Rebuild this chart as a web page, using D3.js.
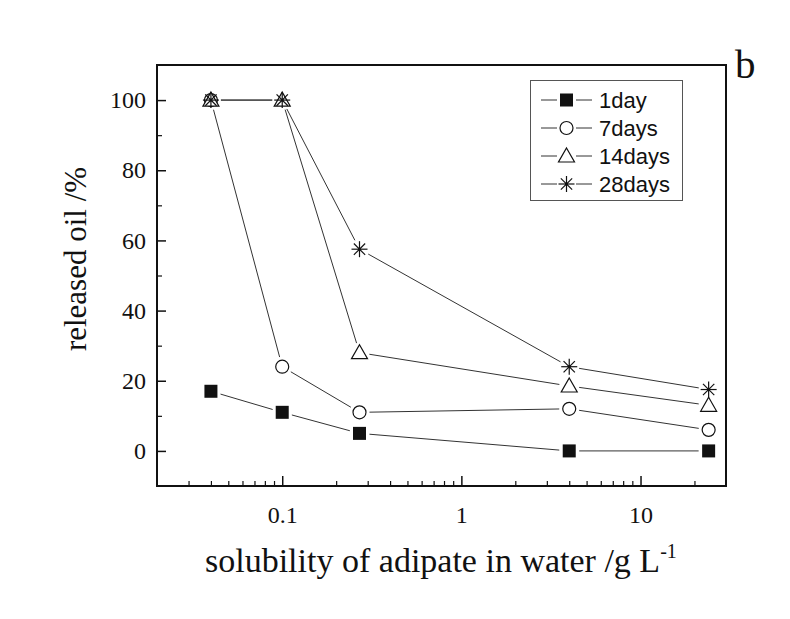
<!DOCTYPE html>
<html>
<head>
<meta charset="utf-8">
<script src="https://cdn.jsdelivr.net/npm/d3@7"></script>
<style>
  body { margin: 0; background: #fff; }
  svg { display: block; }
</style>
</head>
<body>
<svg id="chart" width="790" height="619"></svg>
<script>
// Solubility of each adipate (g/L) on a log axis
const solubility = [0.04, 0.1, 0.27, 4, 24];

// Released oil (%) per storage time
const day1   = [17, 11, 5, 0, 0];
const days7  = [100, 24, 11, 12, 6];
const days14 = [100, 100, 28, 18.5, 13];
const days28 = [100, 100, 57.5, 24, 17.5];

const seriesNames = ["1day", "7days", "14days", "28days"];
const seriesValues = [day1, days7, days14, days28];
const seriesSymbols = ["square", "circle", "triangle", "star"];

const yTicks = [0, 20, 40, 60, 80, 100];
const yMinorTicks = [10, 30, 50, 70, 90];
const xTicks = [0.1, 1, 10];
const xTickLabels = ["0.1", "1", "10"];

const svg = d3.select("#chart");
const m = { left: 157, right: 726, top: 65, bottom: 486 };

const x = d3.scaleLog().domain([0.02, 30]).range([m.left, m.right]);
const y = d3.scaleLinear().domain([-10, 110]).range([m.bottom, m.top]);

const serif = "'Liberation Serif', 'Times New Roman', serif";
const sans = "'Liberation Sans', Arial, sans-serif";
const ink = "#111";
const lineInk = "#333";

// Minor x ticks: every integer multiple within each decade
const xMinor = [];
for (let e = -2; e <= 1; e++) {
  for (let k = 2; k <= 9; k++) {
    const v = k * Math.pow(10, e);
    if (v > 0.02 && v < 30) xMinor.push(v);
  }
}

// Axes with inward ticks
const xAxis = d3.axisBottom(x).tickValues(xTicks)
  .tickFormat((d, i) => xTickLabels[i]).tickSizeInner(-10).tickSizeOuter(0).tickPadding(20);
const gx = svg.append("g").attr("transform", `translate(0,${m.bottom})`).call(xAxis);
gx.select(".domain").remove();
gx.selectAll(".tick line").attr("stroke", ink).attr("stroke-width", 1.5);
gx.selectAll(".tick text").style("font-family", serif).style("font-size", "24px").attr("fill", ink);

const xAxisMinor = d3.axisBottom(x).tickValues(xMinor).tickFormat("").tickSizeInner(-5).tickSizeOuter(0);
const gxm = svg.append("g").attr("transform", `translate(0,${m.bottom})`).call(xAxisMinor);
gxm.select(".domain").remove();
gxm.selectAll(".tick line").attr("stroke", ink).attr("stroke-width", 1.2);

const yAxis = d3.axisLeft(y).tickValues(yTicks).tickSizeInner(-9).tickSizeOuter(0).tickPadding(11);
const gy = svg.append("g").attr("transform", `translate(${m.left},0)`).call(yAxis);
gy.select(".domain").remove();
gy.selectAll(".tick line").attr("stroke", ink).attr("stroke-width", 1.5);
gy.selectAll(".tick text").style("font-family", serif).style("font-size", "24px").attr("fill", ink);

const yAxisMinor = d3.axisLeft(y).tickValues(yMinorTicks)
  .tickFormat("").tickSizeInner(-5).tickSizeOuter(0);
const gym = svg.append("g").attr("transform", `translate(${m.left},0)`).call(yAxisMinor);
gym.select(".domain").remove();
gym.selectAll(".tick line").attr("stroke", ink).attr("stroke-width", 1.2);

// Frame
svg.append("rect")
  .attr("x", m.left).attr("y", m.top)
  .attr("width", m.right - m.left).attr("height", m.bottom - m.top)
  .attr("fill", "none").attr("stroke", ink).attr("stroke-width", 2);

// Marker drawing
function drawSymbol(g, type, cx, cy) {
  if (type === "square") {
    g.append("rect").attr("x", cx - 6.5).attr("y", cy - 6.5).attr("width", 13).attr("height", 13)
      .attr("fill", ink);
  } else if (type === "circle") {
    g.append("circle").attr("cx", cx).attr("cy", cy).attr("r", 6.5)
      .attr("fill", "#fff").attr("stroke", ink).attr("stroke-width", 1.2);
  } else if (type === "triangle") {
    const s = 8;
    g.append("path")
      .attr("d", `M${cx},${cy - s}L${cx + s},${cy + s * 0.75}L${cx - s},${cy + s * 0.75}Z`)
      .attr("fill", "#fff").attr("stroke", ink).attr("stroke-width", 1.2);
  } else if (type === "star") {
    const r = 8;
    for (let a = 0; a < 4; a++) {
      const t = a * Math.PI / 4;
      g.append("line")
        .attr("x1", cx - r * Math.cos(t)).attr("y1", cy - r * Math.sin(t))
        .attr("x2", cx + r * Math.cos(t)).attr("y2", cy + r * Math.sin(t))
        .attr("stroke", ink).attr("stroke-width", 1.2);
    }
    g.append("circle").attr("cx", cx).attr("cy", cy).attr("r", 1.6).attr("fill", ink);
  }
}

// Connecting segments trimmed short of each marker
const gap = 10;
const plot = svg.append("g");
seriesValues.forEach(vals => {
  const pts = vals.map((v, i) => [x(solubility[i]), y(v)]);
  const g = plot.append("g");
  for (let i = 0; i < pts.length - 1; i++) {
    const [x1, y1] = pts[i], [x2, y2] = pts[i + 1];
    const len = Math.hypot(x2 - x1, y2 - y1);
    if (len <= 2 * gap) continue;
    const ux = (x2 - x1) / len, uy = (y2 - y1) / len;
    g.append("line")
      .attr("x1", x1 + ux * gap).attr("y1", y1 + uy * gap)
      .attr("x2", x2 - ux * gap).attr("y2", y2 - uy * gap)
      .attr("stroke", lineInk).attr("stroke-width", 1);
  }
});
seriesValues.forEach((vals, si) => {
  const g = plot.append("g");
  vals.forEach((v, i) => drawSymbol(g, seriesSymbols[si], x(solubility[i]), y(v)));
});

// Legend
const lg = svg.append("g");
lg.append("rect").attr("x", 530.5).attr("y", 80.5).attr("width", 152).attr("height", 120)
  .attr("fill", "#fff").attr("stroke", "#555").attr("stroke-width", 1);
seriesNames.forEach((name, i) => {
  const cy = 100 + i * 28;
  lg.append("line").attr("x1", 541).attr("x2", 557).attr("y1", cy).attr("y2", cy)
    .attr("stroke", lineInk).attr("stroke-width", 1);
  lg.append("line").attr("x1", 576).attr("x2", 592).attr("y1", cy).attr("y2", cy)
    .attr("stroke", lineInk).attr("stroke-width", 1);
  drawSymbol(lg, seriesSymbols[i], 566.5, cy);
  lg.append("text").attr("x", 599).attr("y", cy).attr("dy", "0.36em")
    .style("font-family", sans).style("font-size", "22px").attr("fill", ink).text(name);
});

// Axis titles
svg.append("text")
  .attr("transform", `translate(86,259) rotate(-90)`)
  .attr("text-anchor", "middle")
  .style("font-family", serif).style("font-size", "31px").attr("fill", ink)
  .text("released oil /%");

const xt = svg.append("text")
  .attr("x", 205).attr("y", 572)
  .style("font-family", serif).style("font-size", "34px").attr("fill", ink);
xt.append("tspan").text("solubility of adipate in water /g L");
xt.append("tspan").style("font-size", "20px").attr("dy", -14).text("-1");

// Panel letter
svg.append("text").attr("x", 735).attr("y", 78)
  .style("font-family", serif).style("font-size", "41px").attr("fill", ink).text("b");
</script>
</body>
</html>
